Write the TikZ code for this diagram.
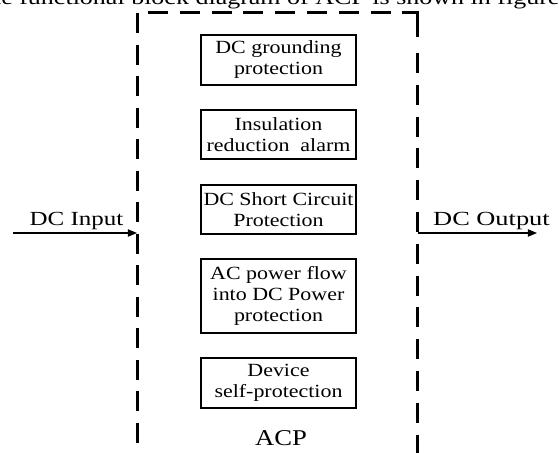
\documentclass[tikz,border=0pt]{standalone}
\usepackage{fontspec}
\setmainfont{Liberation Serif}
\newfontfamily\boxfont{Liberation Serif}[FakeStretch=1.18]
\newfontfamily\labfont{Liberation Serif}[FakeStretch=1.25]
\newfontfamily\outfont{Liberation Serif}[FakeStretch=1.32]
\usetikzlibrary{arrows.meta}
\begin{document}
\begin{tikzpicture}[x=0.5pt,y=-0.5pt,
  blk/.style={draw, line width=0.6pt, minimum width=77.5pt, align=center,
    inner sep=0pt, font=\boxfont\fontsize{9.3}{10.5}\selectfont},
  lab/.style={font=\labfont\fontsize{10}{12}\selectfont, inner sep=0pt, anchor=base},
  border/.style={line width=1.5pt},
  flow/.style={line width=0.6pt, -{Triangle[length=4.5pt,width=3.6pt]}}]
\path[use as bounding box] (0,0) rectangle (559,452);
\clip (0,0) rectangle (559,452);
% cropped caption line above
\node[font=\labfont\fontsize{10.4}{12}\selectfont, inner sep=0pt, anchor=base west] (cap) at (-28,4) {The functional block diagram of ACP is shown in figure};
% ACP dashed boundary
\draw[border, dash pattern=on 10pt off 5.75pt] (138,13) -- (138,460);
\draw[border, dash pattern=on 10pt off 5.9pt] (148,12) -- (395,12);
\draw[border] (402,12) -- (418,12) -- (418,37);
\draw[border, dash pattern=on 10pt off 5.9pt] (418,53) -- (418,460);
% function blocks
\node[blk, minimum height=25pt] (b1) at (278.5,60) {DC grounding\\protection};
\node[blk, minimum height=24.5pt] (b2) at (278.5,134.5) {Insulation\\reduction~ alarm};
\node[blk, minimum height=24.5pt] (b3) at (278.5,209.5) {DC Short Circuit\\Protection};
\node[blk, minimum height=37pt] (b4) at (278.5,296) {AC power flow\\into DC Power\\protection};
\node[blk, minimum height=25pt] (b5) at (278.5,383) {Device\\self-protection};
\node[font=\boxfont\fontsize{11.3}{13}\selectfont, inner sep=0pt, anchor=base] (acp) at (281,445) {ACP};
% input / output
\coordinate (inS) at (13,233);
\coordinate (inE) at (137,233);
\coordinate (outS) at (418,233);
\coordinate (outE) at (537,233);
\draw[flow] (inS) -- (inE);
\draw[flow] (outS) -- (outE);
\node[lab] (inl) at (76.5,225) {DC Input};
\node[lab, font=\outfont\fontsize{10}{12}\selectfont] (outl) at (491.5,225) {DC Output};
\end{tikzpicture}
\end{document}
